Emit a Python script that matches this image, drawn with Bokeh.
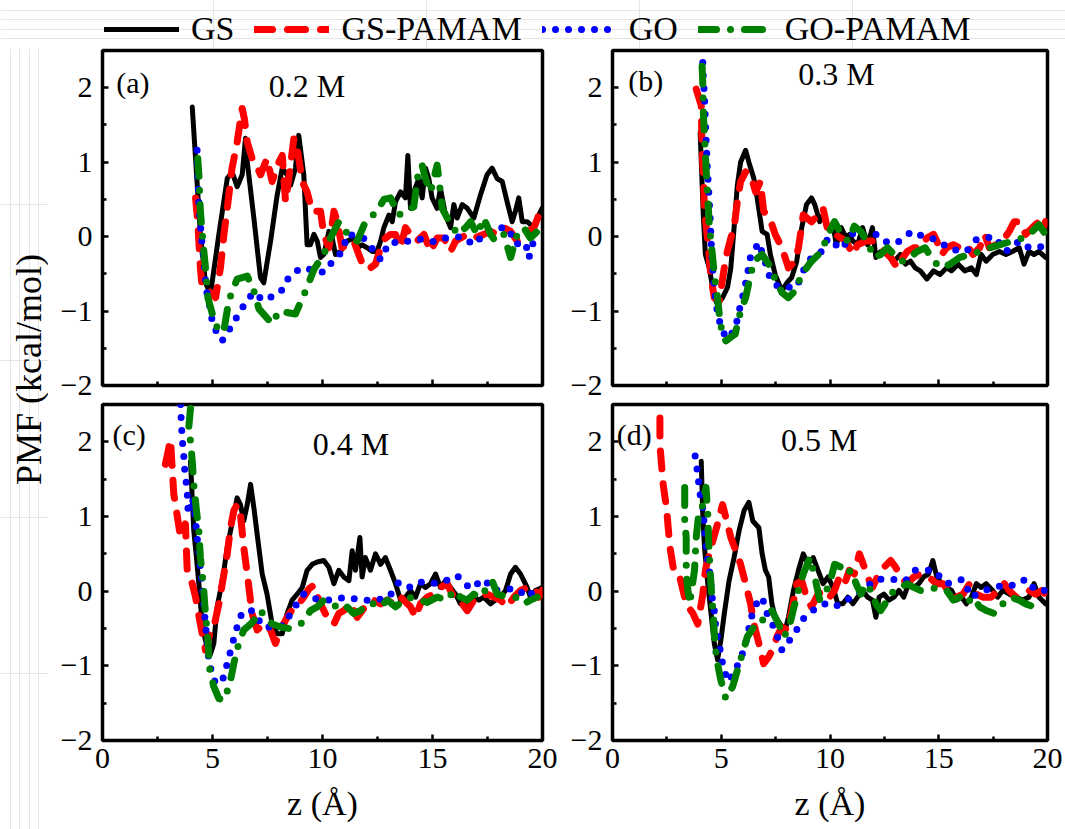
from bokeh.plotting import figure
from bokeh.models import Range1d, FixedTicker, Label, Legend, LegendItem
from bokeh.layouts import column, row
from bokeh.embed import file_html
from bokeh.resources import INLINE

# ---------------------------------------------------------------- data
series_names = ["GS", "GS-PAMAM", "GO", "GO-PAMAM"]
concentrations = ["0.2 M", "0.3 M", "0.4 M", "0.5 M"]
panel_tags = ["(a)", "(b)", "(c)", "(d)"]
x_ticks = [0, 5, 10, 15, 20]
x_minor = [2.5, 7.5, 12.5, 17.5]
y_ticks = [-2, -1, 0, 1, 2]
y_minor = [-1.5, -0.5, 0.5, 1.5]

# (z in Angstrom, PMF in kcal/mol)
gs_02 = [(4.08, 1.74), (4.45, 0.03), (4.68, -0.62), (4.91, -0.77), (5.29, 0.03), (5.67, 0.78), (5.89, 0.87),
         (6.12, 0.67), (6.35, 0.83), (6.50, 1.32), (6.58, 1.00), (6.88, 0.25), (7.18, -0.55), (7.33, -0.62),
         (7.64, -0.06), (7.94, 0.56), (8.17, 0.92), (8.39, 0.83), (8.55, 0.69), (8.77, 0.92), (8.92, 1.36),
         (9.15, 0.83), (9.30, -0.11), (9.45, -0.11), (9.61, 0.03), (9.76, -0.06), (9.91, -0.28), (10.06, -0.24),
         (10.29, 0.07), (10.44, -0.02), (10.59, -0.24), (10.82, -0.20), (11.12, -0.06), (11.42, -0.02),
         (11.58, -0.15), (11.80, -0.11), (12.03, -0.15), (12.26, -0.20), (12.48, -0.20), (12.64, -0.06),
         (12.79, 0.12), (13.02, 0.29), (13.17, 0.20), (13.32, 0.47), (13.55, 0.60), (13.77, 0.52), (13.88, 1.09),
         (14.00, 0.38), (14.15, 0.60), (14.38, 0.78), (14.53, 0.52), (14.68, 0.92), (14.83, 0.78), (14.98, 0.52),
         (15.21, 0.38), (15.36, 0.65), (15.59, 0.29), (15.82, 0.12), (15.97, 0.43), (16.12, 0.25), (16.35, 0.43),
         (16.58, 0.38), (16.88, 0.25), (17.18, 0.56), (17.48, 0.83), (17.71, 0.92), (17.94, 0.78), (18.17, 0.74),
         (18.39, 0.47), (18.62, 0.20), (18.77, 0.34), (18.92, 0.52), (19.08, 0.20), (19.30, 0.20), (19.61, 0.12),
         (19.83, 0.29), (19.98, 0.38)]
gspamam_02 = [(4.23, 0.52), (4.33, 0.20), (4.45, -0.42), (4.53, -0.68), (4.83, -0.73), (5.14, -0.82), (5.36, -0.42),
              (5.52, 0.03), (5.67, 0.38), (5.89, 0.92), (6.12, 1.27), (6.35, 1.72), (6.45, 1.58), (6.58, 1.27),
              (6.80, 1.05), (6.95, 1.00), (7.18, 0.83), (7.48, 1.05), (7.71, 0.74), (8.02, 1.00), (8.17, 1.09),
              (8.32, 0.47), (8.47, 0.78), (8.70, 1.32), (8.85, 1.18), (9.08, 0.74), (9.30, 0.60), (9.53, 0.34),
              (9.91, 0.34), (10.06, 0.03), (10.29, -0.15), (10.52, 0.34), (10.67, 0.20), (10.89, -0.15),
              (11.12, -0.11), (11.42, -0.06), (11.65, -0.24), (11.88, -0.42), (12.18, -0.42), (12.41, -0.37),
              (12.64, -0.15), (12.86, -0.02), (13.09, 0.03), (13.32, 0.03), (13.55, -0.15), (13.77, 0.12),
              (14.00, 0.03), (14.30, -0.06), (14.61, 0.03), (14.91, -0.20), (15.21, -0.02), (15.52, -0.02),
              (15.82, -0.20), (16.05, -0.06), (16.27, -0.02), (16.58, 0.03), (16.88, -0.02), (17.33, 0.03),
              (17.64, 0.07), (17.94, 0.03), (18.24, 0.12), (18.55, 0.07), (18.85, -0.06), (19.15, 0.03),
              (19.61, 0.12), (19.83, 0.29)]
go_02 = [(4.30, 1.16), (4.33, 0.83), (4.35, 0.67), (4.38, 0.43), (4.50, -0.02), (4.58, -0.24), (4.73, -0.73),
         (4.88, -0.95), (5.03, -1.20), (5.44, -1.40), (5.85, -1.21), (6.32, -0.97), (6.85, -0.75), (7.33, -0.86),
         (8.09, -0.75), (8.50, -0.53), (9.03, -0.42), (9.45, -0.44), (10.06, -0.48), (10.47, -0.33),
         (10.90, -0.20), (11.12, 0.03), (11.80, 0.00), (12.18, -0.13), (12.64, -0.31), (13.02, -0.08),
         (13.62, -0.08), (14.38, -0.03), (14.98, -0.07), (15.52, -0.02), (16.35, 0.00), (16.88, -0.11),
         (17.48, 0.07), (18.09, 0.12), (18.45, 0.11), (18.77, -0.10), (19.23, -0.08), (19.38, -0.29),
         (19.53, -0.12), (19.68, 0.00)]
gopamam_02 = [(4.33, 1.05), (4.38, 0.83), (4.45, 0.34), (4.58, -0.11), (4.68, -0.42), (4.79, -0.82), (5.03, -1.08),
              (5.29, -1.28), (5.52, -1.26), (5.74, -0.86), (5.97, -0.68), (6.12, -0.57), (6.58, -0.53),
              (6.88, -0.73), (7.11, -0.97), (7.71, -1.17), (8.02, -1.00), (8.77, -1.04), (9.30, -0.68),
              (9.61, -0.44), (10.06, -0.24), (10.36, -0.02), (10.74, 0.20), (11.27, -0.02), (11.58, -0.06),
              (11.95, 0.20), (12.48, 0.34), (12.79, 0.50), (13.09, 0.52), (13.47, 0.29), (13.70, 0.34),
              (14.15, 0.40), (14.38, 0.92), (14.53, 0.96), (14.68, 0.78), (14.91, 0.60), (15.21, 0.96),
              (15.29, 0.78), (15.44, 0.38), (15.67, 0.25), (15.89, 0.16), (16.12, 0.03), (16.50, 0.12),
              (16.73, 0.20), (17.03, 0.03), (17.33, 0.25), (17.64, 0.03), (17.86, -0.06), (18.24, 0.03),
              (18.55, -0.28), (18.85, 0.03), (19.15, 0.12), (19.45, -0.02), (19.76, 0.07)]

gs_03 = [(4.03, 1.40), (4.18, 0.25), (4.27, -0.24), (4.45, -0.42), (4.68, -0.82), (4.83, -0.91), (5.06, -0.82),
         (5.29, -0.68), (5.44, -0.42), (5.59, 0.12), (5.74, 0.69), (5.89, 1.00), (6.12, 1.16), (6.27, 1.00),
         (6.50, 0.78), (6.65, 0.52), (6.88, 0.07), (7.11, 0.03), (7.26, -0.24), (7.48, -0.51), (7.79, -0.73),
         (8.02, -0.62), (8.24, -0.55), (8.47, -0.33), (8.70, 0.12), (8.92, 0.43), (9.15, 0.52), (9.30, 0.43),
         (9.53, 0.20), (9.68, 0.29), (9.91, 0.12), (10.14, 0.16), (10.29, -0.11), (10.52, 0.12), (10.74, -0.02),
         (10.89, 0.03), (11.05, -0.06), (11.27, -0.11), (11.50, 0.12), (11.73, -0.11), (11.95, 0.12),
         (12.11, -0.28), (12.33, -0.20), (12.64, -0.24), (12.94, -0.33), (13.24, -0.24), (13.47, -0.37),
         (13.70, -0.33), (13.92, -0.42), (14.15, -0.46), (14.45, -0.57), (14.76, -0.46), (15.06, -0.51),
         (15.36, -0.42), (15.59, -0.46), (15.89, -0.37), (16.20, -0.46), (16.50, -0.42), (16.73, -0.51),
         (16.95, -0.24), (17.18, -0.33), (17.48, -0.24), (17.79, -0.20), (18.09, -0.24), (18.39, -0.20),
         (18.70, -0.15), (18.92, -0.37), (19.15, -0.20), (19.38, -0.24), (19.61, -0.20), (19.91, -0.28)]
gspamam_03 = [(3.85, 1.98), (4.08, 1.76), (4.12, 1.14), (4.18, 0.83), (4.23, 0.34), (4.38, -0.06), (4.53, -0.55),
              (4.68, -0.82), (4.91, -0.86), (5.21, -0.28), (5.44, -0.02), (5.59, 0.12), (5.74, 0.47), (5.89, 0.74),
              (6.12, 0.87), (6.35, 0.83), (6.58, 0.60), (6.80, 0.74), (6.95, 0.34), (7.11, 0.29), (7.33, 0.16),
              (7.48, 0.03), (7.79, -0.15), (8.09, -0.42), (8.39, -0.33), (8.55, -0.15), (8.77, 0.29), (9.15, 0.20),
              (9.45, 0.29), (9.68, 0.38), (9.91, 0.07), (10.21, 0.03), (10.52, -0.02), (10.74, -0.06),
              (11.05, -0.24), (11.27, -0.11), (11.65, -0.06), (11.95, -0.06), (12.33, -0.15), (12.79, -0.28),
              (13.09, -0.42), (13.24, -0.33), (13.55, -0.20), (13.85, -0.15), (14.15, -0.15), (14.45, -0.02),
              (14.76, 0.03), (14.91, -0.06), (15.14, -0.24), (15.36, -0.15), (15.67, -0.11), (15.97, -0.15),
              (16.27, -0.11), (16.58, -0.24), (16.88, -0.15), (17.11, 0.03), (17.33, -0.15), (17.64, -0.11),
              (17.94, -0.06), (18.24, 0.07), (18.47, 0.20), (18.70, 0.20), (19.00, 0.03), (19.30, 0.12),
              (19.53, 0.18), (19.76, 0.07), (19.91, 0.20)]
go_03 = [(4.15, 2.34), (4.18, 2.12), (4.23, 1.87), (4.26, 1.63), (4.29, 1.40), (4.33, 1.14), (4.36, 0.92),
         (4.41, 0.69), (4.45, 0.47), (4.50, 0.20), (4.56, -0.24), (4.61, -0.44), (4.68, -0.68), (4.76, -0.91),
         (4.91, -1.13), (5.14, -1.31), (5.36, -1.37), (5.67, -1.20), (5.82, -1.00), (6.05, -0.73), (6.20, -0.51),
         (6.35, -0.26), (6.73, -0.08), (7.03, -0.35), (7.26, -0.57), (7.64, -0.68), (8.09, -0.68), (8.47, -0.68),
         (8.77, -0.46), (9.15, -0.28), (9.61, -0.20), (9.91, -0.02), (10.52, -0.17), (11.12, 0.07), (11.58, 0.00),
         (12.18, 0.03), (12.64, -0.08), (13.09, -0.08), (13.77, 0.07), (14.30, 0.00), (14.91, -0.04),
         (15.52, -0.17), (16.27, -0.20), (16.73, -0.04), (17.56, 0.00), (18.09, -0.20), (18.70, -0.06),
         (19.15, -0.15), (19.53, -0.15), (19.98, -0.11)]
gopamam_03 = [(4.12, 2.29), (4.15, 2.07), (4.18, 1.63), (4.23, 1.36), (4.30, 0.92), (4.38, 0.52), (4.45, 0.16),
              (4.56, -0.15), (4.68, -0.51), (4.83, -0.82), (4.94, -1.13), (5.06, -1.31), (5.21, -1.40),
              (5.44, -1.35), (5.64, -1.31), (5.89, -1.00), (6.12, -0.82), (6.27, -0.62), (6.50, -0.33),
              (6.88, -0.24), (7.18, -0.37), (7.48, -0.57), (7.79, -0.75), (8.09, -0.82), (8.39, -0.73),
              (8.70, -0.51), (9.15, -0.33), (9.61, -0.20), (9.91, 0.03), (10.21, 0.20), (10.52, 0.03),
              (10.82, -0.06), (11.12, 0.14), (11.42, 0.07), (11.73, -0.08), (12.03, -0.28), (12.33, -0.24),
              (12.64, -0.15), (12.94, -0.24), (13.32, -0.33), (13.70, -0.28), (14.00, -0.20), (14.38, -0.15),
              (14.76, -0.33), (15.14, -0.42), (15.52, -0.37), (15.97, -0.28), (16.42, -0.24), (16.88, -0.20),
              (17.33, -0.15), (17.79, -0.11), (18.39, -0.06), (18.85, -0.02), (19.30, 0.07), (19.61, 0.16),
              (19.91, 0.03)]

gs_04 = [(4.00, 1.74), (4.15, 0.81), (4.27, 0.45), (4.38, 0.10), (4.53, -0.44), (4.68, -0.66), (4.91, -0.84),
         (5.06, -0.70), (5.21, -0.21), (5.36, 0.01), (5.52, 0.28), (5.67, 0.59), (5.82, 0.81), (5.97, 1.03),
         (6.12, 1.25), (6.27, 1.16), (6.42, 0.94), (6.58, 1.16), (6.73, 1.43), (6.88, 1.12), (7.03, 0.76),
         (7.26, 0.23), (7.48, -0.04), (7.71, -0.44), (7.94, -0.57), (8.17, -0.57), (8.39, -0.30), (8.62, -0.12),
         (8.85, -0.04), (9.08, 0.05), (9.30, 0.28), (9.53, 0.36), (9.76, 0.39), (10.06, 0.41), (10.29, 0.32),
         (10.52, 0.10), (10.74, 0.28), (10.97, 0.19), (11.20, 0.14), (11.35, 0.54), (11.50, 0.28), (11.70, 0.72),
         (11.80, 0.19), (11.95, 0.45), (12.18, 0.28), (12.41, 0.50), (12.64, 0.36), (12.86, 0.45), (13.09, 0.28),
         (13.32, 0.10), (13.55, -0.12), (13.77, -0.08), (14.00, 0.01), (14.23, -0.08), (14.45, 0.10),
         (14.68, 0.05), (14.91, 0.10), (15.14, 0.23), (15.36, 0.05), (15.59, 0.14), (15.82, 0.05), (16.05, -0.04),
         (16.27, -0.17), (16.58, -0.17), (16.88, -0.08), (17.11, -0.12), (17.33, -0.08), (17.64, -0.17),
         (17.86, -0.12), (18.09, -0.08), (18.32, 0.01), (18.55, 0.23), (18.77, 0.32), (19.00, 0.23),
         (19.15, 0.14), (19.30, 0.05), (19.45, -0.08), (19.68, 0.01), (19.98, 0.05)]
gspamam_04 = [(2.86, 1.70), (3.09, 2.03), (3.24, 1.30), (3.55, 0.72), (3.77, 0.90), (3.85, 0.28), (4.08, 0.10),
              (4.23, -0.08), (4.45, -0.44), (4.68, -0.79), (4.88, -0.57), (5.06, -0.48), (5.29, -0.17),
              (5.52, 0.23), (5.67, 0.50), (5.82, 0.85), (5.97, 1.08), (6.12, 1.16), (6.27, 1.03), (6.42, 0.59),
              (6.58, 0.23), (6.80, -0.30), (7.03, -0.52), (7.33, -0.44), (7.64, -0.52), (7.86, -0.70),
              (8.09, -0.52), (8.39, -0.35), (8.70, -0.21), (8.92, -0.17), (9.15, -0.08), (9.38, 0.03),
              (9.61, 0.08), (9.83, -0.12), (10.06, -0.26), (10.29, -0.39), (10.52, -0.44), (10.74, -0.30),
              (10.97, -0.26), (11.27, -0.17), (11.58, -0.35), (11.80, -0.26), (12.03, -0.17), (12.33, -0.12),
              (12.64, -0.17), (12.94, -0.12), (13.24, -0.17), (13.55, -0.08), (14.00, -0.21), (14.23, -0.35),
              (14.45, -0.17), (14.76, -0.08), (15.06, -0.04), (15.36, 0.05), (15.67, 0.10), (15.89, -0.04),
              (16.12, -0.08), (16.35, -0.17), (16.58, -0.26), (16.88, -0.12), (17.18, -0.08), (17.48, -0.04),
              (17.79, -0.08), (18.09, -0.12), (18.39, -0.21), (18.70, -0.08), (19.00, 0.01), (19.30, 0.05),
              (19.61, 0.05), (19.83, -0.08), (19.98, 0.01)]
go_04 = [(3.55, 2.50), (3.58, 2.28), (3.62, 2.05), (3.70, 1.79), (3.74, 1.61), (3.85, 1.34), (3.88, 1.12),
         (3.92, 1.03), (4.08, 1.25), (4.15, 1.16), (4.23, 0.94), (4.30, 0.72), (4.38, 0.54), (4.45, 0.32),
         (4.53, 0.10), (4.61, -0.21), (4.68, -0.44), (4.76, -0.70), (4.83, -0.92), (5.03, -1.17), (5.18, -1.24),
         (5.44, -1.21), (5.67, -0.97), (5.89, -0.72), (6.12, -0.48), (6.35, -0.28), (6.80, -0.26), (7.33, -0.48),
         (7.86, -0.48), (8.24, -0.46), (8.62, -0.26), (9.15, -0.04), (9.68, -0.10), (10.36, -0.12),
         (11.05, -0.08), (11.80, -0.12), (12.41, -0.12), (13.02, -0.08), (13.47, 0.12), (14.00, 0.05),
         (14.45, 0.12), (14.91, 0.10), (15.36, 0.12), (15.82, 0.16), (16.12, 0.21), (16.35, 0.14), (16.73, 0.03),
         (17.33, 0.16), (17.79, 0.01), (18.24, 0.03), (18.85, 0.03), (19.30, -0.08), (19.68, 0.01), (19.91, 0.01)]
gopamam_04 = [(4.00, 2.45), (3.92, 2.19), (4.00, 2.01), (4.08, 1.74), (4.15, 1.43), (4.27, 1.08), (4.38, 0.81),
              (4.45, 0.45), (4.58, 0.10), (4.68, -0.30), (4.79, -0.66), (4.88, -1.06), (5.06, -1.28),
              (5.29, -1.44), (5.52, -1.46), (5.79, -1.24), (5.97, -0.97), (6.12, -0.77), (6.42, -0.52),
              (6.73, -0.44), (6.95, -0.37), (7.18, -0.26), (7.41, -0.35), (7.71, -0.44), (8.09, -0.48),
              (8.47, -0.50), (8.85, -0.46), (9.15, -0.41), (9.45, -0.26), (9.76, -0.21), (10.06, -0.12),
              (10.36, -0.17), (10.67, -0.21), (10.97, -0.17), (11.42, -0.30), (11.73, -0.26), (12.03, -0.17),
              (12.33, -0.17), (12.64, -0.21), (12.94, -0.12), (13.32, -0.21), (13.70, -0.12), (14.08, -0.08),
              (14.45, -0.12), (14.76, -0.15), (15.21, -0.08), (15.67, -0.12), (15.97, 0.01), (16.27, -0.08),
              (16.58, -0.12), (16.88, -0.04), (17.18, -0.08), (17.48, 0.05), (17.71, 0.14), (17.94, -0.04),
              (18.39, -0.08), (18.77, -0.08), (19.15, -0.17), (19.45, -0.12), (19.76, -0.08)]

gs_05 = [(4.08, 1.74), (4.15, 1.03), (4.23, 0.59), (4.38, 0.10), (4.53, -0.30), (4.68, -0.70), (4.83, -0.92),
         (4.98, -0.66), (5.14, -0.30), (5.36, 0.14), (5.59, 0.45), (5.82, 0.81), (6.05, 1.08), (6.27, 1.19),
         (6.45, 0.94), (6.73, 0.85), (6.88, 0.50), (7.03, 0.28), (7.18, 0.19), (7.33, -0.17), (7.48, -0.35),
         (7.71, -0.44), (7.94, -0.52), (8.09, -0.35), (8.32, 0.01), (8.55, 0.28), (8.77, 0.50), (9.00, 0.36),
         (9.23, 0.45), (9.45, 0.28), (9.68, 0.10), (9.91, 0.19), (10.14, 0.05), (10.36, -0.17), (10.59, -0.17),
         (10.82, -0.08), (11.05, -0.17), (11.27, -0.08), (11.50, 0.01), (11.73, -0.08), (11.95, -0.12),
         (12.11, -0.35), (12.26, -0.08), (12.48, -0.04), (12.71, -0.12), (12.94, -0.08), (13.17, 0.01),
         (13.39, -0.08), (13.62, 0.10), (13.85, 0.05), (14.08, 0.10), (14.30, 0.19), (14.53, 0.23), (14.73, 0.41),
         (14.91, 0.19), (15.14, 0.10), (15.36, 0.05), (15.59, 0.01), (15.82, -0.12), (16.05, -0.08),
         (16.27, -0.17), (16.50, -0.08), (16.73, 0.10), (16.95, 0.05), (17.18, 0.10), (17.48, 0.01),
         (17.71, -0.08), (17.94, 0.01), (18.24, -0.04), (18.55, -0.08), (18.85, -0.12), (19.15, -0.08),
         (19.38, 0.10), (19.61, -0.08), (19.91, -0.17)]
gspamam_05 = [(2.18, 2.32), (2.18, 1.96), (2.33, 1.43), (2.48, 1.12), (2.64, 0.59), (2.79, 0.32), (3.02, 0.28),
              (3.39, -0.17), (3.70, -0.30), (3.92, -0.44), (4.15, -0.05), (4.23, 0.19), (4.30, 0.32),
              (4.53, 0.59), (4.83, 0.90), (5.06, 1.16), (5.44, 0.72), (5.67, 0.54), (5.89, 0.36), (6.12, 0.10),
              (6.35, -0.17), (6.50, -0.44), (6.73, -0.70), (6.95, -0.97), (7.18, -0.88), (7.41, -0.75),
              (7.56, -0.61), (7.79, -0.48), (8.02, -0.52), (8.24, -0.26), (8.47, 0.10), (8.70, 0.14),
              (8.92, -0.08), (9.15, -0.21), (9.45, -0.04), (9.68, 0.01), (9.98, -0.08), (10.21, 0.01),
              (10.44, 0.19), (10.67, 0.10), (10.89, 0.28), (11.12, 0.23), (11.35, 0.50), (11.58, 0.32),
              (11.73, 0.19), (11.95, 0.05), (12.18, 0.19), (12.48, 0.32), (12.79, 0.41), (13.02, 0.32),
              (13.24, 0.19), (13.55, 0.10), (13.85, 0.19), (14.15, 0.23), (14.53, 0.19), (14.91, 0.10),
              (15.21, 0.10), (15.52, -0.04), (15.82, -0.08), (16.12, -0.04), (16.42, 0.10), (16.73, -0.04),
              (17.03, -0.08), (17.41, -0.08), (17.71, 0.01), (18.02, 0.10), (18.24, 0.01), (18.55, -0.08),
              (18.85, -0.04), (19.15, 0.01), (19.45, -0.04), (19.76, 0.01), (19.98, -0.08)]
go_05 = [(3.80, 1.81), (3.92, 1.57), (4.00, 1.34), (4.15, 1.12), (4.23, 0.85), (4.30, 0.63), (4.38, 0.41),
         (4.50, 0.19), (4.56, -0.04), (4.68, -0.26), (4.76, -0.52), (4.91, -0.72), (5.06, -0.97), (5.29, -1.21),
         (5.59, -1.10), (5.97, -0.84), (6.20, -0.61), (6.35, -0.37), (6.65, -0.15), (6.88, -0.08), (7.11, -0.30),
         (7.48, -0.52), (7.79, -0.79), (8.32, -0.59), (8.77, -0.37), (9.30, -0.24), (9.76, -0.17), (10.21, -0.21),
         (10.89, -0.10), (11.50, 0.01), (12.11, 0.16), (12.79, 0.16), (13.47, 0.14), (13.92, 0.28), (14.76, 0.28),
         (15.36, 0.10), (16.12, 0.16), (16.50, -0.08), (17.11, 0.01), (17.94, 0.08), (18.55, 0.08), (19.00, 0.16),
         (19.45, 0.01), (19.91, 0.01)]
gopamam_05 = [(3.32, 1.39), (3.32, 0.94), (3.39, 0.72), (3.39, 0.45), (3.39, 0.23), (3.47, 0.01), (3.55, -0.17),
              (3.77, 0.28), (3.85, 0.72), (3.97, 1.05), (4.12, 1.12), (4.30, 1.39), (4.38, 1.03), (4.42, 0.68),
              (4.48, 0.32), (4.56, -0.04), (4.64, -0.35), (4.71, -0.72), (4.83, -0.97), (4.98, -1.19),
              (5.21, -1.44), (5.52, -1.28), (5.74, -1.06), (5.97, -0.84), (6.20, -0.61), (6.50, -0.48),
              (6.80, -0.46), (7.03, -0.30), (7.33, -0.26), (7.64, -0.44), (7.86, -0.61), (8.09, -0.52),
              (8.32, -0.24), (8.55, 0.01), (8.77, 0.23), (9.08, 0.45), (9.30, 0.19), (9.53, -0.12), (9.76, -0.04),
              (9.98, 0.10), (10.21, 0.36), (10.52, 0.32), (10.74, 0.23), (10.97, 0.28), (11.20, 0.10),
              (11.42, -0.04), (11.65, 0.10), (11.88, 0.01), (12.11, -0.17), (12.33, -0.26), (12.64, -0.12),
              (12.94, 0.01), (13.24, 0.05), (13.55, 0.10), (13.85, 0.05), (14.15, 0.01), (14.45, 0.01),
              (14.91, 0.05), (15.36, 0.01), (15.67, -0.12), (15.97, -0.08), (16.27, -0.17), (16.58, -0.08),
              (16.88, -0.21), (17.18, -0.26), (17.56, -0.30), (17.94, -0.17), (18.32, -0.08), (18.70, -0.12),
              (19.00, -0.17), (19.38, -0.21), (19.61, -0.21)]

panel_series = [
    [gs_02, gspamam_02, go_02, gopamam_02],
    [gs_03, gspamam_03, go_03, gopamam_03],
    [gs_04, gspamam_04, go_04, gopamam_04],
    [gs_05, gspamam_05, go_05, gopamam_05],
]

# ---------------------------------------------------------------- style
SERIF = "Liberation Serif"
line_styles = [
    dict(line_color="black", line_width=5, line_dash="solid"),
    dict(line_color="#ff0000", line_width=7, line_dash="18 15"),
    dict(line_color="#0000ff", line_width=7, line_dash="0 13"),
    dict(line_color="#008000", line_width=7, line_dash="18 14 0 14"),
]
# tag / title anchor positions in data units, per panel
tag_pos = [(0.62, 2.07), (0.72, 2.10), (0.45, 2.10), (0.20, 2.10)]
title_pos = [(9.3, 2.02), (10.3, 2.18), (11.3, 1.97), (9.5, 2.03)]


def split(data):
    return [d[0] for d in data], [d[1] for d in data]


def make_panel(idx, width, height, left, right, top, bottom, show_x):
    p = figure(width=width, height=height, x_range=Range1d(0, 20), y_range=Range1d(-2, 2.5),
               output_backend="svg", toolbar_location=None, title=None,
               min_border_left=left, min_border_right=right,
               min_border_top=top, min_border_bottom=bottom)
    p.background_fill_color = "white"
    p.border_fill_color = "white"
    p.outline_line_color = "black"
    p.outline_line_width = 3.5
    p.xgrid.visible = False
    p.ygrid.visible = False

    p.xaxis.ticker = FixedTicker(ticks=x_ticks, minor_ticks=x_minor)
    p.yaxis.ticker = FixedTicker(ticks=y_ticks, minor_ticks=y_minor)
    for ax in (p.xaxis[0], p.yaxis[0]):
        ax.axis_line_color = None
        ax.major_tick_in = 6
        ax.major_tick_out = 0
        ax.minor_tick_in = 4
        ax.minor_tick_out = 0
        ax.major_tick_line_width = 2.5
        ax.minor_tick_line_width = 2.5
        ax.major_tick_line_color = "black"
        ax.minor_tick_line_color = "black"
        ax.major_label_text_font = SERIF
        ax.major_label_text_color = "black"
        ax.major_label_text_font_size = "30px"

    p.yaxis.major_label_standoff = 10
    if show_x:
        p.xaxis.major_label_standoff = 8
        p.xaxis.axis_label = "z (\u00c5)"
        p.xaxis.axis_label_text_font = SERIF
        p.xaxis.axis_label_text_font_size = "34px"
        p.xaxis.axis_label_text_font_style = "normal"
        p.xaxis.axis_label_text_color = "black"
        p.xaxis.axis_label_standoff = 14
    else:
        p.xaxis.major_label_text_font_size = "0px"
        p.xaxis.major_label_text_color = None
        p.xaxis.major_label_standoff = 0

    for data, style in zip(panel_series[idx], line_styles):
        z, pmf = split(data)
        p.line(z, pmf, line_cap="round", line_join="round", **style)

    tx, ty = tag_pos[idx]
    p.add_layout(Label(x=tx, y=ty, text=panel_tags[idx], text_font=SERIF, text_font_size="30px",
                       text_align="left", text_baseline="middle", text_color="black"))
    cx, cy = title_pos[idx]
    p.add_layout(Label(x=cx, y=cy, text=concentrations[idx], text_font=SERIF, text_font_size="32px",
                       text_align="center", text_baseline="middle", text_color="black"))
    return p


# upper row keeps room under its frame for the "-2" tick label
pa = make_panel(0, 519, 354, 54, 25, 2, 17, False)
pb = make_panel(1, 498, 354, 40, 18, 2, 17, False)
pc = make_panel(2, 519, 427, 54, 25, 2, 89, True)
pd = make_panel(3, 498, 427, 40, 18, 2, 89, True)

# ---------------------------------------------------------------- legend strip
# the strip's view box (0..1) lies left of every z value, so its lines show only as legend keys
leg = figure(width=1065, height=48, x_range=Range1d(0, 1), y_range=Range1d(0, 1),
             output_backend="svg", toolbar_location=None, title=None,
             x_axis_location=None, y_axis_location=None, min_border=0)
leg.outline_line_color = None
leg.background_fill_color = "white"
leg.border_fill_color = "white"
items = []
for name, data, style in zip(series_names, panel_series[0], line_styles):
    z, pmf = split(data)
    r = leg.line(z, pmf, line_cap="round", line_join="round", **style)
    items.append(LegendItem(label=name, renderers=[r]))
legend = Legend(items=items, orientation="horizontal", location=(104, 0),
                glyph_width=75, glyph_height=30, label_standoff=12, spacing=20,
                padding=0, margin=0, border_line_color=None, background_fill_alpha=0,
                label_text_font=SERIF, label_text_font_size="34px", label_text_color="black",
                label_height=30)
leg.add_layout(legend, "center")

# ---------------------------------------------------------------- shared y label
ylab = figure(width=48, height=781, x_range=Range1d(0, 1), y_range=Range1d(0, 1),
              output_backend="svg", toolbar_location=None, title=None,
              x_axis_location=None, y_axis_location=None, min_border=0)
ylab.outline_line_color = None
ylab.background_fill_color = "white"
ylab.border_fill_color = "white"
ylab.add_layout(Label(x=0.60, y=0.589, text="PMF (kcal/mol)", angle=90, angle_units="deg",
                      text_font=SERIF, text_font_size="36px", text_align="center",
                      text_baseline="middle", text_color="black"))

layout = column(leg, row(ylab, column(row(pa, pb), row(pc, pd))))

open("out.html", "w").write(file_html(layout, INLINE))
